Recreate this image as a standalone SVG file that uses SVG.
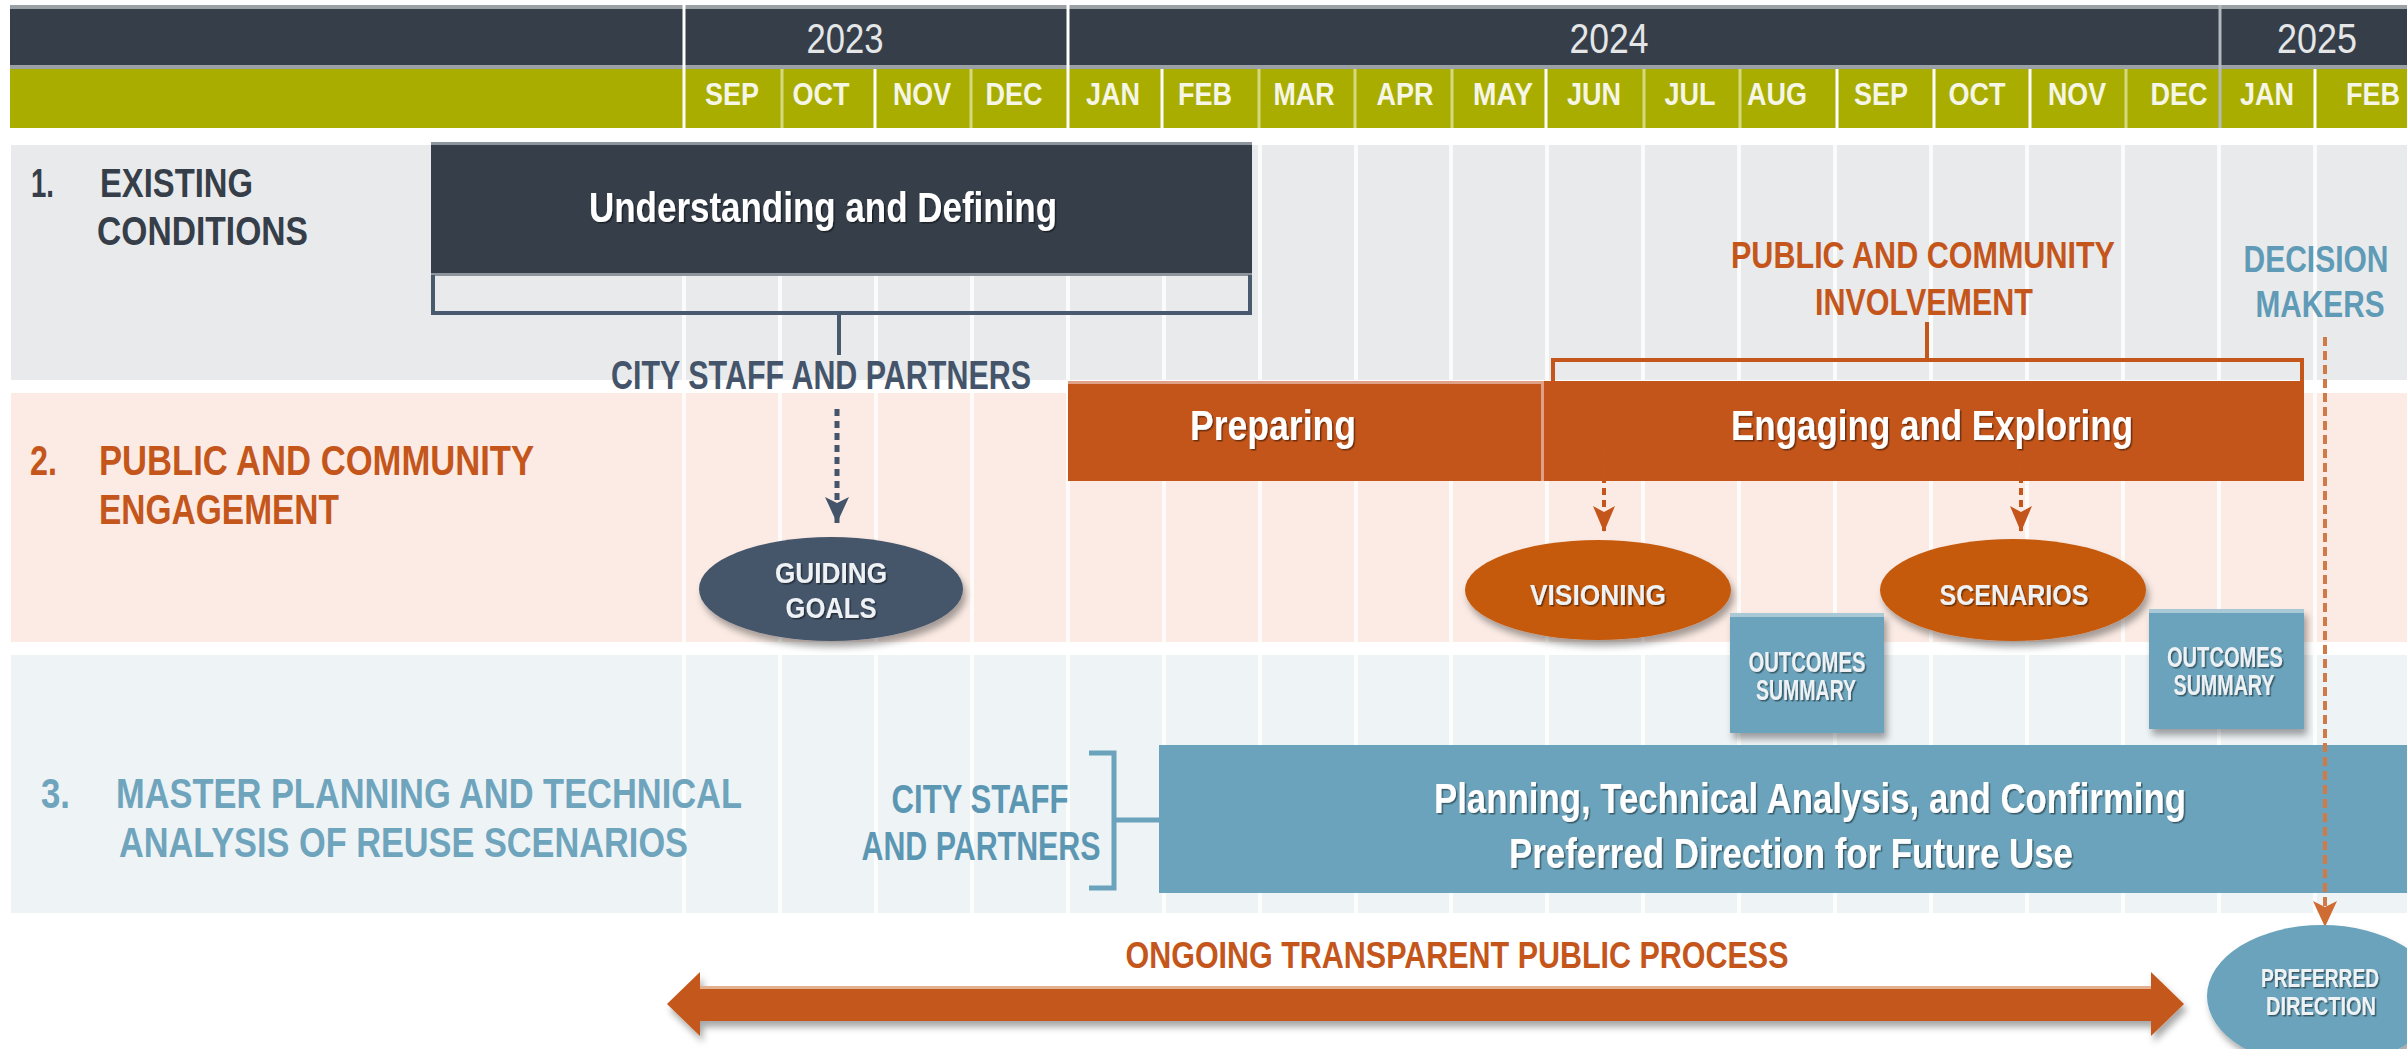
<svg xmlns="http://www.w3.org/2000/svg" width="2407" height="1049" viewBox="0 0 2407 1049">
<defs>
<style>
text{font-family:"Liberation Sans Narrow","Liberation Sans",Arial,sans-serif;font-weight:bold}
.yr{font-size:43px;font-weight:normal;fill:#e4e6e8;text-anchor:middle}
.mo{font-size:31px;fill:#f6f6e6;text-anchor:middle}
.l1{font-size:40px;fill:#353e49}
.l2{font-size:42px;fill:#c4561b}
.l3{font-size:43px;fill:#6fa4bd}
.bar{font-size:42px;fill:#ffffff;text-anchor:middle;filter:url(#ts)}
.ov{font-size:29px;fill:#eef2f5;text-anchor:middle;filter:url(#ts)}
.no{font-size:37px;fill:#c4561b;text-anchor:middle}
.nb{font-size:37px;fill:#5f9bb6;text-anchor:middle}
.ns{font-size:40px;fill:#44546a;text-anchor:middle}
.nc{font-size:40px;fill:#5b97b3;text-anchor:middle}
.grid{stroke:#ffffff;stroke-width:4;stroke-opacity:0.8}
.mw{stroke:#ffffff;stroke-width:3}
.ml{stroke:#d6d87e;stroke-width:3}
.dash-s{fill:none;stroke:#44546a;stroke-width:5;stroke-dasharray:7 5}
.dash-o{fill:none;stroke:#c4561b;stroke-width:4;stroke-dasharray:7 5}
.dash-d{fill:none;stroke:#d07a48;stroke-width:4;stroke-dasharray:9 5}
.br-s{fill:none;stroke:#4a5a6e;stroke-width:4}
.br-o{fill:none;stroke:#c4561b;stroke-width:4}
.br-b{fill:none;stroke:#6aa3bb;stroke-width:5}
</style>
<filter id="ts" x="-5%" y="-20%" width="110%" height="140%">
<feDropShadow dx="1.5" dy="1.5" stdDeviation="0.7" flood-color="#000" flood-opacity="0.45"/>
</filter>
<filter id="sh" x="-10%" y="-10%" width="125%" height="135%">
<feDropShadow dx="3" dy="6" stdDeviation="3.5" flood-color="#000" flood-opacity="0.35"/>
</filter>
<marker id="ah-s" viewBox="0 0 26 24" markerWidth="26" markerHeight="24" refX="26" refY="12" orient="auto" markerUnits="userSpaceOnUse">
<path d="M0,0 L26,12 L0,24 L6,12 z" fill="#44546a"/>
</marker>
<marker id="ah-o" viewBox="0 0 26 22" markerWidth="26" markerHeight="22" refX="26" refY="11" orient="auto" markerUnits="userSpaceOnUse">
<path d="M0,0 L26,11 L0,22 L6,11 z" fill="#c4561b"/>
</marker>
<marker id="ah-d" viewBox="0 0 26 24" markerWidth="26" markerHeight="24" refX="26" refY="12" orient="auto" markerUnits="userSpaceOnUse">
<path d="M0,0 L26,12 L0,24 L6,12 z" fill="#cf6c33"/>
</marker>
</defs>

<rect width="2407" height="1049" fill="#ffffff"/>

<g id="header">
<rect x="10" y="5" width="2397" height="123" fill="#9ba0a5"/>
<rect x="10" y="9" width="2397" height="56" fill="#353e49"/>
<rect x="10" y="69" width="2397" height="59" fill="#a9ad00"/>
<line class="ml" x1="782" y1="69" x2="782" y2="128"/>
<line class="mw" x1="875" y1="69" x2="875" y2="128"/>
<line class="ml" x1="971" y1="69" x2="971" y2="128"/>
<line class="mw" x1="1162" y1="69" x2="1162" y2="128"/>
<line class="ml" x1="1259" y1="69" x2="1259" y2="128"/>
<line class="ml" x1="1355" y1="69" x2="1355" y2="128"/>
<line class="ml" x1="1452" y1="69" x2="1452" y2="128"/>
<line class="mw" x1="1546" y1="69" x2="1546" y2="128"/>
<line class="ml" x1="1644" y1="69" x2="1644" y2="128"/>
<line class="ml" x1="1740" y1="69" x2="1740" y2="128"/>
<line class="mw" x1="1837" y1="69" x2="1837" y2="128"/>
<line class="mw" x1="1934" y1="69" x2="1934" y2="128"/>
<line class="mw" x1="2030" y1="69" x2="2030" y2="128"/>
<line class="ml" x1="2126" y1="69" x2="2126" y2="128"/>
<line class="mw" x1="2315" y1="69" x2="2315" y2="128"/>
<line class="mw" x1="684" y1="5" x2="684" y2="128"/>
<line class="mw" x1="1068" y1="5" x2="1068" y2="128"/>
<line x1="2220" y1="5" x2="2220" y2="128" stroke="#b4b9bd" stroke-width="3"/>
<text class="yr" x="845" y="53" textLength="77" lengthAdjust="spacingAndGlyphs">2023</text>
<text class="yr" x="1609" y="53" textLength="79" lengthAdjust="spacingAndGlyphs">2024</text>
<text class="yr" x="2317" y="53" textLength="80" lengthAdjust="spacingAndGlyphs">2025</text>
<text class="mo" x="732" y="105" textLength="54" lengthAdjust="spacingAndGlyphs">SEP</text>
<text class="mo" x="821" y="105" textLength="57" lengthAdjust="spacingAndGlyphs">OCT</text>
<text class="mo" x="922" y="105" textLength="58" lengthAdjust="spacingAndGlyphs">NOV</text>
<text class="mo" x="1014" y="105" textLength="57" lengthAdjust="spacingAndGlyphs">DEC</text>
<text class="mo" x="1113" y="105" textLength="54" lengthAdjust="spacingAndGlyphs">JAN</text>
<text class="mo" x="1205" y="105" textLength="54" lengthAdjust="spacingAndGlyphs">FEB</text>
<text class="mo" x="1304" y="105" textLength="61" lengthAdjust="spacingAndGlyphs">MAR</text>
<text class="mo" x="1405" y="105" textLength="57" lengthAdjust="spacingAndGlyphs">APR</text>
<text class="mo" x="1503" y="105" textLength="60" lengthAdjust="spacingAndGlyphs">MAY</text>
<text class="mo" x="1594" y="105" textLength="54" lengthAdjust="spacingAndGlyphs">JUN</text>
<text class="mo" x="1690" y="105" textLength="51" lengthAdjust="spacingAndGlyphs">JUL</text>
<text class="mo" x="1777" y="105" textLength="60" lengthAdjust="spacingAndGlyphs">AUG</text>
<text class="mo" x="1881" y="105" textLength="54" lengthAdjust="spacingAndGlyphs">SEP</text>
<text class="mo" x="1977" y="105" textLength="57" lengthAdjust="spacingAndGlyphs">OCT</text>
<text class="mo" x="2077" y="105" textLength="58" lengthAdjust="spacingAndGlyphs">NOV</text>
<text class="mo" x="2179" y="105" textLength="57" lengthAdjust="spacingAndGlyphs">DEC</text>
<text class="mo" x="2267" y="105" textLength="54" lengthAdjust="spacingAndGlyphs">JAN</text>
<text class="mo" x="2373" y="105" textLength="54" lengthAdjust="spacingAndGlyphs">FEB</text>
</g>

<g id="rows">
<rect x="11" y="145" width="2396" height="235" fill="#e9eaec"/>
<rect x="11" y="393" width="2396" height="249" fill="#fbebe4"/>
<rect x="11" y="655" width="2396" height="258" fill="#eef3f6"/>
</g>

<g id="grid">
<line class="grid" x1="684" y1="145" x2="684" y2="913"/>
<line class="grid" x1="780" y1="145" x2="780" y2="913"/>
<line class="grid" x1="876" y1="145" x2="876" y2="913"/>
<line class="grid" x1="972" y1="145" x2="972" y2="913"/>
<line class="grid" x1="1068" y1="145" x2="1068" y2="913"/>
<line class="grid" x1="1164" y1="145" x2="1164" y2="913"/>
<line class="grid" x1="1260" y1="145" x2="1260" y2="913"/>
<line class="grid" x1="1356" y1="145" x2="1356" y2="913"/>
<line class="grid" x1="1451" y1="145" x2="1451" y2="913"/>
<line class="grid" x1="1547" y1="145" x2="1547" y2="913"/>
<line class="grid" x1="1643" y1="145" x2="1643" y2="913"/>
<line class="grid" x1="1739" y1="145" x2="1739" y2="913"/>
<line class="grid" x1="1835" y1="145" x2="1835" y2="913"/>
<line class="grid" x1="1931" y1="145" x2="1931" y2="913"/>
<line class="grid" x1="2027" y1="145" x2="2027" y2="913"/>
<line class="grid" x1="2123" y1="145" x2="2123" y2="913"/>
<line class="grid" x1="2219" y1="145" x2="2219" y2="913"/>
<line class="grid" x1="2315" y1="145" x2="2315" y2="913"/>
</g>

<g id="row1-label">
<text class="l1" x="31" y="197" textLength="23" lengthAdjust="spacingAndGlyphs">1.</text>
<text class="l1" x="100" y="197" textLength="153" lengthAdjust="spacingAndGlyphs">EXISTING</text>
<text class="l1" x="97" y="245" textLength="211" lengthAdjust="spacingAndGlyphs">CONDITIONS</text>
</g>
<g id="row2-label">
<text class="l2" x="30" y="475" textLength="27" lengthAdjust="spacingAndGlyphs">2.</text>
<text class="l2" x="99" y="475" textLength="435" lengthAdjust="spacingAndGlyphs">PUBLIC AND COMMUNITY</text>
<text class="l2" x="99" y="524" textLength="240" lengthAdjust="spacingAndGlyphs">ENGAGEMENT</text>
</g>
<g id="row3-label">
<text class="l3" x="41" y="808" textLength="29" lengthAdjust="spacingAndGlyphs">3.</text>
<text class="l3" x="116" y="808" textLength="626" lengthAdjust="spacingAndGlyphs">MASTER PLANNING AND TECHNICAL</text>
<text class="l3" x="119" y="857" textLength="569" lengthAdjust="spacingAndGlyphs">ANALYSIS OF REUSE SCENARIOS</text>
</g>

<g id="understanding">
<rect x="431" y="142" width="821" height="3" fill="#8d949b"/>
<rect x="431" y="145" width="821" height="128" fill="#353e49"/>
<rect x="431" y="273" width="821" height="3" fill="#8d949b"/>
<text class="bar" x="823" y="222" textLength="468" lengthAdjust="spacingAndGlyphs">Understanding and Defining</text>
</g>

<g id="city-staff-1">
<text class="ns" x="821" y="389" textLength="420" lengthAdjust="spacingAndGlyphs">CITY STAFF AND PARTNERS</text>
</g>

<g id="public-involvement">
<text class="no" x="1923" y="268" textLength="384" lengthAdjust="spacingAndGlyphs">PUBLIC AND COMMUNITY</text>
<text class="no" x="1924" y="315" textLength="218" lengthAdjust="spacingAndGlyphs">INVOLVEMENT</text>
</g>

<g id="decision-makers">
<text class="nb" x="2316" y="272" textLength="145" lengthAdjust="spacingAndGlyphs">DECISION</text>
<text class="nb" x="2320" y="317" textLength="129" lengthAdjust="spacingAndGlyphs">MAKERS</text>
</g>

<g id="preparing">
<rect x="1068" y="381" width="473" height="100" fill="#c3541a"/>
<rect x="1068" y="381" width="473" height="3" fill="#dfa187"/>
<text class="bar" x="1273" y="440" textLength="166" lengthAdjust="spacingAndGlyphs">Preparing</text>
</g>
<rect x="1541" y="381" width="3" height="100" fill="#dfa187"/>
<g id="engaging">
<rect x="1544" y="381" width="760" height="100" fill="#c3541a"/>
<text class="bar" x="1932" y="440" textLength="402" lengthAdjust="spacingAndGlyphs">Engaging and Exploring</text>
</g>

<g id="connectors">
<path class="br-s" d="M433,275 V313 H1250 V275"/>
<path class="br-s" d="M839,313 V355"/>
<path class="dash-s" d="M837,409 V523" marker-end="url(#ah-s)"/>
<path class="br-o" d="M1553,381 V360 H2302 V381"/>
<path class="br-o" d="M1927,322 V360"/>
<path class="dash-o" d="M1604,452 V532" marker-end="url(#ah-o)"/>
<path class="dash-o" d="M2021,452 V532" marker-end="url(#ah-o)"/>
<path class="br-b" d="M1089,753 H1114 V888 H1089 M1114,820 H1159"/>
<polygon points="667,1004 700,972 700,987 2151,987 2151,972 2184,1004 2151,1036 2151,1021 700,1021 700,1036" fill="#c4581a" filter="url(#sh)"/>
<rect x="700" y="986" width="1451" height="3" fill="#e3b08f"/>
</g>

<g id="guiding-goals">
<ellipse cx="831" cy="589" rx="132" ry="52" fill="#44546a" filter="url(#sh)"/>
<text class="ov" x="831" y="583" textLength="112" lengthAdjust="spacingAndGlyphs">GUIDING</text>
<text class="ov" x="831" y="618" textLength="91" lengthAdjust="spacingAndGlyphs">GOALS</text>
</g>

<g id="visioning">
<ellipse cx="1598" cy="590" rx="133" ry="50" fill="#c55a11" filter="url(#sh)"/>
<text class="ov" x="1598" y="605" textLength="136" lengthAdjust="spacingAndGlyphs">VISIONING</text>
</g>

<g id="scenarios">
<ellipse cx="2013" cy="590" rx="133" ry="51" fill="#c55a11" filter="url(#sh)"/>
<text class="ov" x="2014" y="605" textLength="149" lengthAdjust="spacingAndGlyphs">SCENARIOS</text>
</g>

<g id="outcomes-1">
<rect x="1730" y="613" width="154" height="120" fill="#6aa3bb" filter="url(#sh)"/>
<rect x="1730" y="613" width="154" height="4" fill="#a9c9d6"/>
<text class="ov" x="1807" y="672" textLength="117" lengthAdjust="spacingAndGlyphs">OUTCOMES</text>
<text class="ov" x="1806" y="700" textLength="100" lengthAdjust="spacingAndGlyphs">SUMMARY</text>
</g>

<g id="outcomes-2">
<rect x="2149" y="609" width="155" height="120" fill="#6aa3bb" filter="url(#sh)"/>
<rect x="2149" y="609" width="155" height="4" fill="#a9c9d6"/>
<text class="ov" x="2225" y="667" textLength="116" lengthAdjust="spacingAndGlyphs">OUTCOMES</text>
<text class="ov" x="2224" y="695" textLength="101" lengthAdjust="spacingAndGlyphs">SUMMARY</text>
</g>

<g id="city-staff-3">
<text class="nc" x="980" y="813" textLength="177" lengthAdjust="spacingAndGlyphs">CITY STAFF</text>
<text class="nc" x="981" y="860" textLength="239" lengthAdjust="spacingAndGlyphs">AND PARTNERS</text>
</g>

<g id="planning">
<rect x="1159" y="745" width="1248" height="148" fill="#6aa3bb"/>
<text class="bar" x="1810" y="813" textLength="752" lengthAdjust="spacingAndGlyphs">Planning, Technical Analysis, and Confirming</text>
<text class="bar" x="1791" y="868" textLength="564" lengthAdjust="spacingAndGlyphs">Preferred Direction for Future Use</text>
</g>

<g id="decision-arrow">
<path class="dash-d" d="M2325,337 V927" marker-end="url(#ah-d)"/>
</g>

<g id="ongoing">
<text class="no" x="1457" y="968" textLength="663" lengthAdjust="spacingAndGlyphs">ONGOING TRANSPARENT PUBLIC PROCESS</text>
</g>

<g id="preferred-direction">
<ellipse cx="2322" cy="996" rx="115" ry="71" fill="#6aa3bb" filter="url(#sh)"/>
<text class="ov" x="2320" y="987" textLength="118" lengthAdjust="spacingAndGlyphs" style="font-size:26px">PREFERRED</text>
<text class="ov" x="2321" y="1015" textLength="110" lengthAdjust="spacingAndGlyphs" style="font-size:26px">DIRECTION</text>
</g>
</svg>
